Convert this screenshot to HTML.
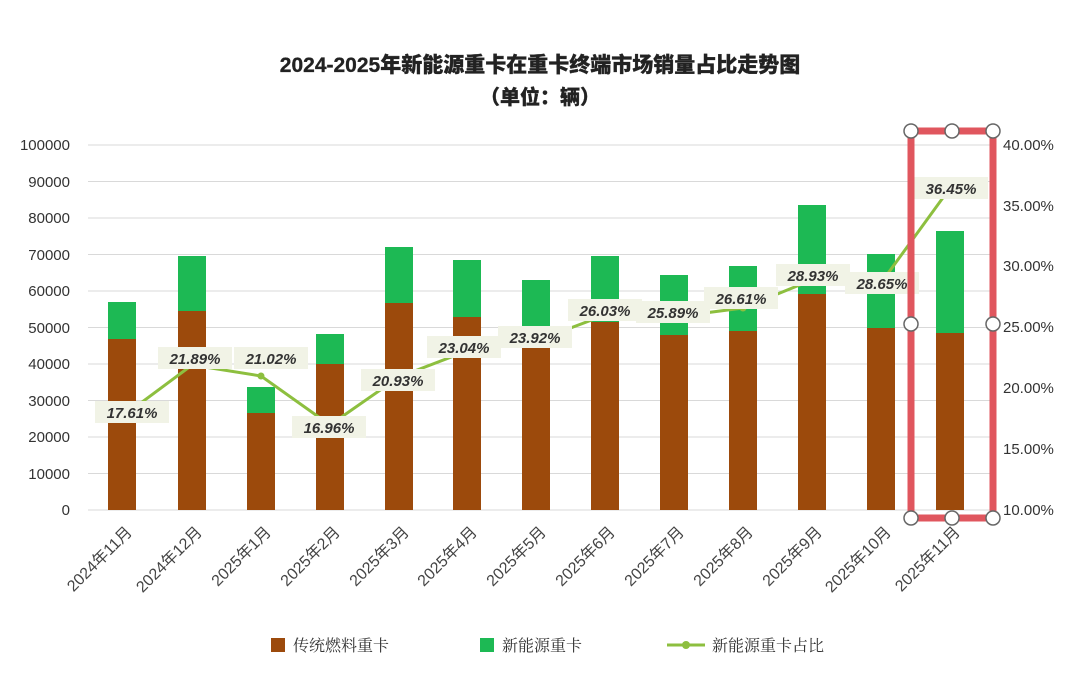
<!DOCTYPE html>
<html><head><meta charset="utf-8"><style>
body{margin:0;background:#fff;}
svg text{font-family:"Liberation Sans","Noto Sans CJK SC",sans-serif;}
</style></head><body>
<svg width="1080" height="672" viewBox="0 0 1080 672" xmlns="http://www.w3.org/2000/svg">
<rect width="1080" height="672" fill="#fff"/>
<text x="540" y="72" text-anchor="middle" font-size="21" font-weight="900" fill="#222" stroke="#222" stroke-width="0.3">2024-2025年新能源重卡在重卡终端市场销量占比走势图</text>
<text x="540" y="104" text-anchor="middle" font-size="20" font-weight="900" fill="#222" stroke="#222" stroke-width="0.3">（单位：辆）</text>
<g stroke="#d9d9d9" stroke-width="1">
<line x1="88" x2="995" y1="145" y2="145"/><line x1="88" x2="995" y1="181.5" y2="181.5"/><line x1="88" x2="995" y1="218" y2="218"/><line x1="88" x2="995" y1="254.5" y2="254.5"/><line x1="88" x2="995" y1="291" y2="291"/><line x1="88" x2="995" y1="327.5" y2="327.5"/><line x1="88" x2="995" y1="364" y2="364"/><line x1="88" x2="995" y1="400.5" y2="400.5"/><line x1="88" x2="995" y1="437" y2="437"/><line x1="88" x2="995" y1="473.5" y2="473.5"/><line x1="88" x2="995" y1="510" y2="510"/>
</g>
<g font-size="15" fill="#333" text-anchor="end">
<text x="70" y="150">100000</text><text x="70" y="187">90000</text><text x="70" y="223">80000</text><text x="70" y="260">70000</text><text x="70" y="296">60000</text><text x="70" y="333">50000</text><text x="70" y="369">40000</text><text x="70" y="406">30000</text><text x="70" y="442">20000</text><text x="70" y="479">10000</text><text x="70" y="515">0</text>
</g>
<g font-size="15" fill="#333">
<text x="1003" y="150">40.00%</text><text x="1003" y="211">35.00%</text><text x="1003" y="271">30.00%</text><text x="1003" y="332">25.00%</text><text x="1003" y="393">20.00%</text><text x="1003" y="454">15.00%</text><text x="1003" y="515">10.00%</text>
</g>
<g>
<rect x="108" y="302" width="28" height="208" fill="#1db954"/><rect x="108" y="339" width="28" height="171" fill="#9c4a0c"/>
<rect x="178" y="256" width="28" height="254" fill="#1db954"/><rect x="178" y="311" width="28" height="199" fill="#9c4a0c"/>
<rect x="247" y="387" width="28" height="123" fill="#1db954"/><rect x="247" y="413" width="28" height="97" fill="#9c4a0c"/>
<rect x="316" y="334" width="28" height="176" fill="#1db954"/><rect x="316" y="364" width="28" height="146" fill="#9c4a0c"/>
<rect x="385" y="247" width="28" height="263" fill="#1db954"/><rect x="385" y="303" width="28" height="207" fill="#9c4a0c"/>
<rect x="453" y="260" width="28" height="250" fill="#1db954"/><rect x="453" y="317" width="28" height="193" fill="#9c4a0c"/>
<rect x="522" y="280" width="28" height="230" fill="#1db954"/><rect x="522" y="335" width="28" height="175" fill="#9c4a0c"/>
<rect x="591" y="256" width="28" height="254" fill="#1db954"/><rect x="591" y="322" width="28" height="188" fill="#9c4a0c"/>
<rect x="660" y="275" width="28" height="235" fill="#1db954"/><rect x="660" y="335" width="28" height="175" fill="#9c4a0c"/>
<rect x="729" y="266" width="28" height="244" fill="#1db954"/><rect x="729" y="331" width="28" height="179" fill="#9c4a0c"/>
<rect x="798" y="205" width="28" height="305" fill="#1db954"/><rect x="798" y="294" width="28" height="216" fill="#9c4a0c"/>
<rect x="867" y="254" width="28" height="256" fill="#1db954"/><rect x="867" y="328" width="28" height="182" fill="#9c4a0c"/>
<rect x="936" y="231" width="28" height="279" fill="#1db954"/><rect x="936" y="333" width="28" height="177" fill="#9c4a0c"/>
</g>
<polyline fill="none" stroke="#8dbf3f" stroke-width="3" points="122,417 192,365 261,376 330,425 399,377 467,351 536,341 605,315 674,317 743,308 812,280 881,283 950,188"/>
<g fill="#8dbf3f"><circle cx="122" cy="417" r="3.5"/><circle cx="192" cy="365" r="3.5"/><circle cx="261" cy="376" r="3.5"/><circle cx="330" cy="425" r="3.5"/><circle cx="399" cy="377" r="3.5"/><circle cx="467" cy="351" r="3.5"/><circle cx="536" cy="341" r="3.5"/><circle cx="605" cy="315" r="3.5"/><circle cx="674" cy="317" r="3.5"/><circle cx="743" cy="308" r="3.5"/><circle cx="812" cy="280" r="3.5"/><circle cx="881" cy="283" r="3.5"/><circle cx="950" cy="188" r="3.5"/></g>
<g font-size="15" font-weight="bold" font-style="italic" fill="#333" text-anchor="middle">
<g fill="#f1f3e6"><rect x="95" y="401" width="74" height="22"/><rect x="158" y="347" width="74" height="22"/><rect x="234" y="347" width="74" height="22"/><rect x="292" y="416" width="74" height="22"/><rect x="361" y="369" width="74" height="22"/><rect x="427" y="336" width="74" height="22"/><rect x="498" y="326" width="74" height="22"/><rect x="568" y="299" width="74" height="22"/><rect x="636" y="301" width="74" height="22"/><rect x="704" y="287" width="74" height="22"/><rect x="776" y="264" width="74" height="22"/><rect x="845" y="272" width="74" height="22"/><rect x="914" y="177" width="74" height="22"/></g>
<text x="132" y="418">17.61%</text><text x="195" y="364">21.89%</text><text x="271" y="364">21.02%</text><text x="329" y="433">16.96%</text><text x="398" y="386">20.93%</text><text x="464" y="353">23.04%</text><text x="535" y="343">23.92%</text><text x="605" y="316">26.03%</text><text x="673" y="318">25.89%</text><text x="741" y="304">26.61%</text><text x="813" y="281">28.93%</text><text x="882" y="289">28.65%</text><text x="951" y="194">36.45%</text>
</g>
<rect x="911" y="131" width="82" height="387" fill="none" stroke="#e0565e" stroke-width="7"/>
<g fill="#fff" stroke="#666" stroke-width="1.5"><circle cx="911" cy="131" r="7"/><circle cx="952" cy="131" r="7"/><circle cx="993" cy="131" r="7"/><circle cx="911" cy="324" r="7"/><circle cx="993" cy="324" r="7"/><circle cx="911" cy="518" r="7"/><circle cx="952" cy="518" r="7"/><circle cx="993" cy="518" r="7"/></g>
<g font-size="16" fill="#444" text-anchor="end">
<text transform="translate(133,533) rotate(-45)">2024年11月</text><text transform="translate(203,533) rotate(-45)">2024年12月</text><text transform="translate(272,533) rotate(-45)">2025年1月</text><text transform="translate(341,533) rotate(-45)">2025年2月</text><text transform="translate(410,533) rotate(-45)">2025年3月</text><text transform="translate(478,533) rotate(-45)">2025年4月</text><text transform="translate(547,533) rotate(-45)">2025年5月</text><text transform="translate(616,533) rotate(-45)">2025年6月</text><text transform="translate(685,533) rotate(-45)">2025年7月</text><text transform="translate(754,533) rotate(-45)">2025年8月</text><text transform="translate(823,533) rotate(-45)">2025年9月</text><text transform="translate(892,533) rotate(-45)">2025年10月</text><text transform="translate(961,533) rotate(-45)">2025年11月</text>
</g>
<g font-size="16" fill="#333" style="font-family:'Noto Serif CJK SC','Liberation Serif',serif">
<rect x="271" y="638" width="14" height="14" fill="#9c4a0c"/><text x="293" y="651" style="font-family:'Noto Serif CJK SC',serif">传统燃料重卡</text>
<rect x="480" y="638" width="14" height="14" fill="#1db954"/><text x="502" y="651" style="font-family:'Noto Serif CJK SC',serif">新能源重卡</text>
<line x1="667" x2="705" y1="645" y2="645" stroke="#8dbf3f" stroke-width="3"/><circle cx="686" cy="645" r="4" fill="#8dbf3f"/><text x="712" y="651" style="font-family:'Noto Serif CJK SC',serif">新能源重卡占比</text>
</g>
</svg>
</body></html>
